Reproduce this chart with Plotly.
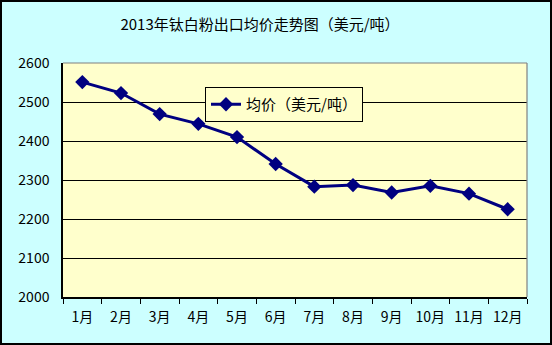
import plotly.graph_objects as go

months = ["1月", "2月", "3月", "4月", "5月", "6月", "7月", "8月", "9月", "10月", "11月", "12月"]
avg_price = [2551, 2523, 2469, 2444, 2410, 2341, 2283, 2287, 2268, 2285, 2265, 2225]
y_ticks = [2000, 2100, 2200, 2300, 2400, 2500, 2600]

W, H = 552, 345
ML, MR, MT, MB = 63, 25, 63, 48
PW, PH = W - ML - MR, H - MT - MB

FONT = "Noto Sans CJK SC, SimSun, DejaVu Sans, sans-serif"
NAVY = "#000080"

fig = go.Figure()
fig.add_trace(go.Scatter(
    x=months, y=avg_price, mode="lines+markers", name="均价（美元/吨）",
    line=dict(color=NAVY, width=3),
    marker=dict(symbol="diamond", size=11, color=NAVY),
))

shapes = [
    # grey top and right edges of the plot area
    dict(type="line", xref="paper", yref="paper", x0=0, x1=1, y0=1, y1=1,
         line=dict(color="#808080", width=1.2)),
    dict(type="line", xref="paper", yref="paper", x0=1, x1=1, y0=0, y1=1,
         line=dict(color="#808080", width=1.2)),
    # outer chart frame
    dict(type="rect", xref="paper", yref="paper",
         x0=-(ML - 1) / PW, x1=1 + (MR - 1) / PW,
         y0=-(MB - 1) / PH, y1=1 + (MT - 1) / PH,
         line=dict(color="black", width=2)),
]

fig.update_layout(
    width=W, height=H,
    margin=dict(l=ML, r=MR, t=MT, b=MB),
    paper_bgcolor="#CCFFFF", plot_bgcolor="#FFFFCC",
    font=dict(family=FONT, size=14, color="black"),
    title=dict(text="2013年钛白粉出口均价走势图（美元/吨）", x=260 / W, xanchor="center",
               y=1 - 25 / H, yanchor="middle", font=dict(size=15, family=FONT)),
    showlegend=True,
    legend=dict(x=(205 - ML) / PW, y=(H - MB - 87) / PH, xanchor="left", yanchor="top",
                bgcolor="#FFFFCC", bordercolor="black", borderwidth=1,
                font=dict(size=15, family=FONT), itemwidth=30,
                tracegroupgap=0),
    shapes=shapes,
)

fig.update_xaxes(
    type="category", range=[-0.5, 11.5], showgrid=False,
    showline=True, linecolor="black", linewidth=1.5,
    ticks="outside", tickson="boundaries", ticklen=5, tickcolor="black",
    tickfont=dict(size=14, family=FONT), ticklabelstandoff=6,
)
fig.update_yaxes(
    range=[2000, 2600], tickvals=y_ticks, showgrid=True, gridcolor="black", gridwidth=1,
    showline=True, linecolor="black", linewidth=1.5, ticks="", zeroline=False,
    tickfont=dict(size=14, family=FONT), ticklabelstandoff=9,
)

fig.write_html("out.html")
